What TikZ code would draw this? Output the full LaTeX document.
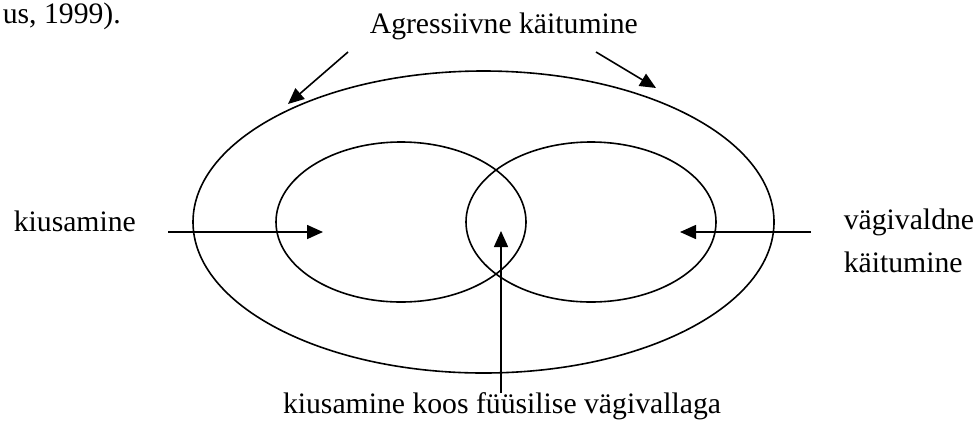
\documentclass[tikz,border=0pt]{standalone}
\usepackage{fontspec}
\setmainfont{Liberation Serif}
\usetikzlibrary{shapes.geometric,arrows.meta}
\begin{document}
\begin{tikzpicture}[x=0.5pt,y=-0.5pt, line width=0.8pt,
  ring/.style={draw, ellipse, inner sep=0pt, outer sep=0pt},
  lbl/.style={font=\fontsize{14.85}{17}\selectfont, inner sep=0pt, anchor=base west},
  pointer/.style={-{Triangle[length=8pt,width=7pt]}}]
\useasboundingbox (0,0) rectangle (977,434);
% ellipses
\node[ring, minimum width=290.5pt, minimum height=151pt] (outer) at (483.5,222) {};
\node[ring, minimum width=125pt, minimum height=80pt] (bully) at (401,222) {};
\node[ring, minimum width=125pt, minimum height=80pt] (violent) at (591,222) {};
% labels
\node[lbl] (cite) at (2,23) {us, 1999).};
\node[lbl] (aggr) at (369,33) {Agressiivne käitumine};
\node[lbl] (kius) at (13,231) {kiusamine};
\node[lbl] (vag1) at (843,229) {vägivaldne};
\node[lbl] (vag2) at (843,272) {käitumine};
\node[lbl, anchor=base] (both) at (502,413) {kiusamine koos füüsilise vägivallaga};
% arrow coordinates
\coordinate (tlA) at (348,52);
\coordinate (tlB) at (288,104);
\coordinate (trA) at (596,52);
\coordinate (trB) at (656,88);
\coordinate (lA) at (168,232);
\coordinate (lB) at (323,232);
\coordinate (rA) at (811,232);
\coordinate (rB) at (680,232);
\coordinate (bA) at (501,393);
\coordinate (bB) at (501,231);
\draw[pointer] (tlA) -- (tlB);
\draw[pointer] (trA) -- (trB);
\draw[pointer] (lA) -- (lB);
\draw[pointer] (rA) -- (rB);
\draw[pointer] (bA) -- (bB);
\end{tikzpicture}
\end{document}
